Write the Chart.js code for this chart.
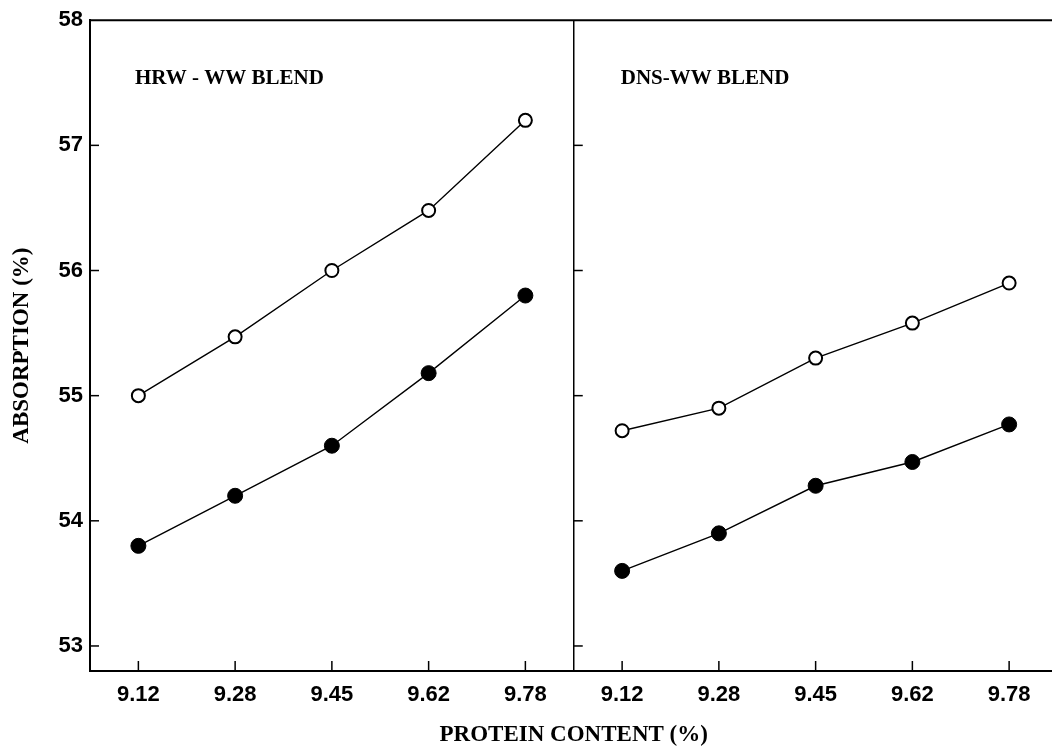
<!DOCTYPE html>
<html>
<head>
<meta charset="utf-8">
<script src="https://cdn.jsdelivr.net/npm/chart.js@4/dist/chart.umd.min.js"></script>
<style>
    html, body { margin: 0; padding: 0; background: #fff; overflow: hidden; }
    #wrap { width: 1052px; height: 751px; overflow: hidden; }
</style>
</head>
<body>
<div id="wrap"><canvas id="chart" width="1066" height="751"></canvas></div>
<script>
// Protein content levels (same for both panels)
const protein = ['9.12', '9.28', '9.45', '9.62', '9.78'];

// HRW - WW blend
const hrwOpen = [55.0, 55.47, 56.0, 56.48, 57.2];
const hrwFilled = [53.8, 54.2, 54.6, 55.18, 55.8];

// DNS-WW blend
const dnsOpen = [54.72, 54.9, 55.3, 55.58, 55.9];
const dnsFilled = [53.6, 53.9, 54.28, 54.47, 54.77];

const yTicks = [53, 54, 55, 56, 57, 58];
const panelTitles = ['HRW - WW BLEND', 'DNS-WW BLEND'];

const empty = protein.map(() => null);
const leftPanel = vals => vals.concat(empty);
const rightPanel = vals => empty.concat(vals);

const openStyle = {
    borderColor: '#000',
    borderWidth: 1.4,
    pointRadius: 6.5,
    pointBorderWidth: 2,
    pointBackgroundColor: '#fff',
    pointBorderColor: '#000',
    tension: 0,
    spanGaps: false
};
const filledStyle = {
    borderColor: '#000',
    borderWidth: 1.4,
    pointRadius: 7.5,
    pointBorderWidth: 1,
    pointBackgroundColor: '#000',
    pointBorderColor: '#000',
    tension: 0,
    spanGaps: false
};

// top border, panel divider, inward tick marks and panel labels
const framePlugin = {
    id: 'frame',
    afterDraw(chart) {
        const ctx = chart.ctx;
        const area = chart.chartArea;
        const xs = chart.scales.x;
        const ys = chart.scales.y;
        const divider = (xs.getPixelForValue(4) + xs.getPixelForValue(5)) / 2;

        ctx.save();
        ctx.strokeStyle = '#000';
        ctx.lineCap = 'butt';

        ctx.lineWidth = 2;
        ctx.beginPath();
        ctx.moveTo(area.left - 1, area.top);
        ctx.lineTo(area.right, area.top);
        ctx.stroke();

        ctx.lineWidth = 1.5;
        ctx.beginPath();
        ctx.moveTo(divider, area.top);
        ctx.lineTo(divider, area.bottom);
        ctx.stroke();

        xs.ticks.forEach((t, i) => {
            const px = xs.getPixelForTick(i);
            ctx.beginPath();
            ctx.moveTo(px, area.bottom);
            ctx.lineTo(px, area.bottom - 10);
            ctx.stroke();
        });

        ys.ticks.forEach(t => {
            if (t.value >= ys.max) return;
            const py = ys.getPixelForValue(t.value);
            [area.left, divider].forEach(x0 => {
                ctx.beginPath();
                ctx.moveTo(x0, py);
                ctx.lineTo(x0 + 9, py);
                ctx.stroke();
            });
        });

        ctx.fillStyle = '#000';
        ctx.font = 'bold 21px "Liberation Serif", "DejaVu Serif", serif';
        ctx.textBaseline = 'middle';
        ctx.textAlign = 'left';
        ctx.fillText(panelTitles[0], area.left + 45, area.top + 58);
        ctx.fillText(panelTitles[1], divider + 47, area.top + 58);
        ctx.restore();
    }
};

const tickFont = { family: '"Liberation Sans", Arial, sans-serif', size: 22, weight: 'bold' };
const titleFont = { family: '"Liberation Serif", "Times New Roman", serif', size: 23, weight: 'bold' };

new Chart(document.getElementById('chart').getContext('2d'), {
    type: 'line',
    data: {
        labels: protein.concat(protein),
        datasets: [
            { label: 'HRW open', data: leftPanel(hrwOpen), ...openStyle },
            { label: 'HRW filled', data: leftPanel(hrwFilled), ...filledStyle },
            { label: 'DNS open', data: rightPanel(dnsOpen), ...openStyle },
            { label: 'DNS filled', data: rightPanel(dnsFilled), ...filledStyle }
        ]
    },
    options: {
        responsive: false,
        animation: false,
        layout: { padding: { top: 20, right: 6, left: 0, bottom: 0 } },
        plugins: {
            legend: { display: false },
            tooltip: { enabled: false }
        },
        scales: {
            x: {
                type: 'category',
                offset: true,
                grid: { display: false, drawTicks: false },
                border: { display: true, color: '#000', width: 2 },
                ticks: {
                    color: '#000',
                    font: tickFont,
                    padding: 11,
                    autoSkip: false,
                    maxRotation: 0
                },
                title: {
                    display: true,
                    text: 'PROTEIN CONTENT (%)',
                    color: '#000',
                    font: titleFont,
                    padding: { top: 0, bottom: 2 }
                },
                afterFit(scale) { scale.height = 80; }
            },
            y: {
                min: 52.8,
                max: 58,
                grid: { display: false, drawTicks: false },
                border: { display: true, color: '#000', width: 2 },
                ticks: {
                    color: '#000',
                    font: tickFont,
                    padding: 7
                },
                afterBuildTicks(scale) {
                    scale.ticks = yTicks.map(v => ({ value: v }));
                },
                title: {
                    display: true,
                    text: 'ABSORPTION (%)',
                    color: '#000',
                    font: titleFont,
                    padding: { top: 8, bottom: 0 }
                },
                afterFit(scale) { scale.width = 90; }
            }
        }
    },
    plugins: [framePlugin]
});
</script>
</body>
</html>
